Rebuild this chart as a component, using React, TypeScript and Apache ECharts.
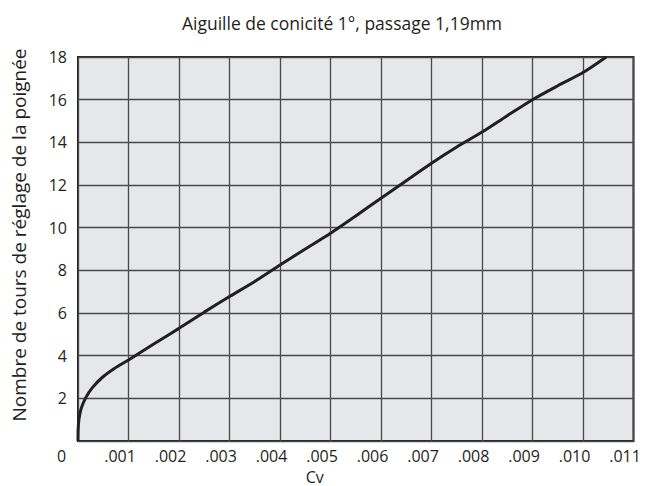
import React, { useEffect, useRef } from "react";
import * as echarts from "echarts";

const TITLE = "Aiguille de conicité 1°, passage 1,19mm";
const X_NAME = "Cv";
const Y_NAME = "Nombre de tours de réglage de la poignée";

const cvValues = [
  0, 0.000002, 0.000018, 0.00006, 0.000146, 0.000285, 0.00049, 0.00072, 0.001,
  0.0015, 0.002, 0.0025, 0.003, 0.0035, 0.004, 0.0045, 0.005, 0.0055, 0.006,
  0.0065, 0.007, 0.0075, 0.008, 0.0085, 0.009, 0.0095, 0.01, 0.01046,
];
const turns = [
  0, 0.5, 1.0, 1.5, 2.0, 2.5, 3.0, 3.4, 3.8,
  4.55, 5.28, 6.04, 6.77, 7.48, 8.25, 9.0, 9.74, 10.55, 11.38,
  12.2, 13.02, 13.78, 14.48, 15.25, 16.0, 16.65, 17.27, 18.0,
];

const X_MIN = 0;
const X_MAX = 0.011;
const X_STEP = 0.001;
const Y_MIN = 0;
const Y_MAX = 18;
const Y_STEP = 2;

const FONT = "Open Sans";
const INK = "#231f20";

export default function App() {
  const ref = useRef<HTMLDivElement>(null);
  useEffect(() => {
    if (!ref.current) return;
    const chart = echarts.init(ref.current, undefined, { renderer: "svg" });
    const data = cvValues.map((v, i) => [v, turns[i]]);
    chart.setOption({
      animation: false,
      backgroundColor: "#ffffff",
      textStyle: { fontFamily: FONT },
      title: {
        text: TITLE,
        left: 337,
        textAlign: "center",
        top: 9,
        textStyle: { fontFamily: FONT, fontSize: 17.5, fontWeight: "normal", color: INK },
      },
      grid: {
        left: 78,
        right: 13.5,
        top: 57,
        bottom: 45,
        containLabel: false,
        outerBoundsMode: "none",
        show: true,
        backgroundColor: "#e6e7e8",
        borderColor: INK,
        borderWidth: 2,
      },
      xAxis: {
        type: "value",
        min: X_MIN,
        max: X_MAX,
        interval: X_STEP,
        name: X_NAME,
        nameLocation: "middle",
        nameGap: 26,
        nameTextStyle: {
          fontFamily: FONT,
          fontSize: 16,
          color: INK,
          padding: [0, 82, 0, 0],
        },
        axisLine: { show: false },
        axisTick: { show: false },
        splitLine: { show: true, lineStyle: { color: "#4a4a4a", width: 1.3 } },
        axisLabel: {
          fontFamily: FONT,
          fontSize: 16,
          color: INK,
          margin: 7,
          padding: [0, 17, 0, 0],
          formatter: (v: number) => {
            if (Math.abs(v) < 1e-9) return "{z|0}";
            return "." + String(Math.round(v * 1000)).padStart(3, "0");
          },
          rich: {
            z: { fontFamily: FONT, fontSize: 16, color: INK, padding: [0, 16, 0, 0] },
          },
        },
      },
      yAxis: {
        type: "value",
        min: Y_MIN,
        max: Y_MAX,
        interval: Y_STEP,
        name: Y_NAME,
        nameLocation: "middle",
        nameRotate: 90,
        nameGap: 50,
        nameTextStyle: {
          fontFamily: FONT,
          fontSize: 19,
          color: INK,
          padding: [0, 0, 0, 28],
        },
        axisLine: { show: false },
        axisTick: { show: false },
        splitLine: { show: true, lineStyle: { color: "#4a4a4a", width: 1.3 } },
        axisLabel: {
          fontFamily: FONT,
          fontSize: 16,
          color: INK,
          margin: 11,
          formatter: (v: number) => (v === 0 ? "" : String(v)),
        },
      },
      series: [
        {
          type: "line",
          data,
          smooth: 0.25,
          showSymbol: false,
          lineStyle: { color: INK, width: 3 },
          clip: false,
        },
      ],
    });
    return () => chart.dispose();
  }, []);
  return (
    <div
      ref={ref}
      style={{ position: "fixed", left: 0, top: 0, width: 647, height: 486 }}
    />
  );
}
